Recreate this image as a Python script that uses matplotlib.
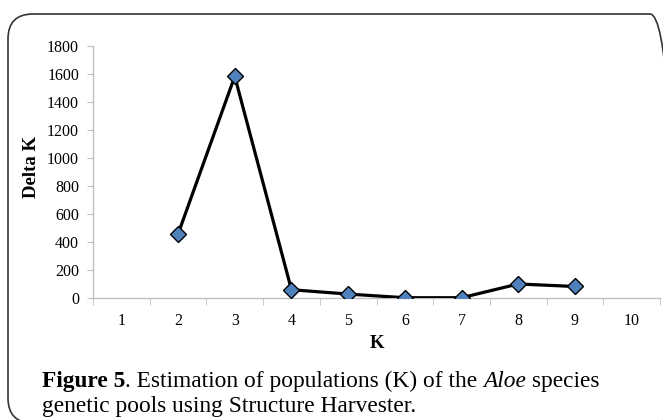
import matplotlib
matplotlib.use("Agg")
import matplotlib.pyplot as plt
from matplotlib.patches import FancyBboxPatch

# values
k_values = [2, 3, 4, 5, 6, 7, 8, 9]
delta_k = [456, 1580, 59, 28, 2, 2, 100, 82]
x_ticks = [1, 2, 3, 4, 5, 6, 7, 8, 9, 10]
y_ticks = [0, 200, 400, 600, 800, 1000, 1200, 1400, 1600, 1800]

SERIF = "Liberation Serif"
AXIS_GREY = "#bfbfbf"
W, H = 663.0, 420.0

fig = plt.figure(figsize=(6.63, 4.2), dpi=100)
fig.patch.set_facecolor("white")

# rounded frame around the whole figure (runs off the right / bottom edge)
frame = FancyBboxPatch((0.08, -0.03), 6.67, 4.09,
                       boxstyle="round,pad=0,rounding_size=0.25",
                       transform=fig.dpi_scale_trans,
                       facecolor="none", edgecolor="#333333", linewidth=1.2)
fig.patches.append(frame)

ax = fig.add_axes([93 / W, 1 - 298 / H, (660 - 93) / W, (298 - 45.5) / H])
ax.plot(k_values, delta_k, color="black", linewidth=2.3,
        marker="D", markersize=8, markerfacecolor="#4f81bd",
        markeredgecolor="black", markeredgewidth=1.0, zorder=3)

ax.set_xlim(0.5, 10.5)
ax.set_ylim(0, 1800)
ax.set_yticks(y_ticks)
ax.set_xticks(x_ticks)
ax.set_xticklabels([str(t) for t in x_ticks], fontfamily=SERIF, fontsize=11.5)
ax.set_yticklabels([str(t) for t in y_ticks], fontfamily=SERIF, fontsize=11.5)

# excel-like category ticks sit between the categories
ax.set_xticks([t + 0.5 for t in [0] + x_ticks], minor=True)
ax.tick_params(axis="x", which="major", length=0, pad=11)
ax.tick_params(axis="x", which="minor", length=5, color=AXIS_GREY, direction="out")
ax.tick_params(axis="y", length=4, color=AXIS_GREY, direction="out", pad=6)

for side in ["top", "right"]:
    ax.spines[side].set_visible(False)
for side in ["left", "bottom"]:
    ax.spines[side].set_color(AXIS_GREY)
    ax.spines[side].set_linewidth(1.0)

ax.set_xlabel("K", fontfamily=SERIF, fontweight="bold", fontsize=13.5)
ax.set_ylabel("Delta K", fontfamily=SERIF, fontweight="bold", fontsize=13.5)
# place axis titles where they sit in the reference (in pixel terms)
ax.xaxis.set_label_coords((376.7 - 93) / (660 - 93), -(343 - 298) / (298 - 45.5))
ax.yaxis.set_label_coords(-(93 - 31.7) / (660 - 93), (298 - 166.7) / (298 - 45.5))
ax.xaxis.label.set_va("center")
ax.yaxis.label.set_va("center")

# caption, built from pieces so that bold / italic parts line up
fig.canvas.draw()
renderer = fig.canvas.get_renderer()
cap_size = 16.8
pieces = [("Figure 5", "bold", "normal"),
          (". Estimation of populations (K) of the ", "normal", "normal"),
          ("Aloe", "normal", "italic"),
          (" species", "normal", "normal")]
x_px = 42
y1 = 1 - 387 / H
for txt, weight, style in pieces:
    t = fig.text(x_px / W, y1, txt, fontfamily=SERIF, fontsize=cap_size,
                 fontweight=weight, fontstyle=style, va="baseline", ha="left")
    bb = t.get_window_extent(renderer=renderer)
    x_px = bb.x1
fig.text(42 / W, 1 - 412 / H, "genetic pools using Structure Harvester.",
         fontfamily=SERIF, fontsize=cap_size, va="baseline", ha="left")

fig.savefig("out.png", dpi=100)
